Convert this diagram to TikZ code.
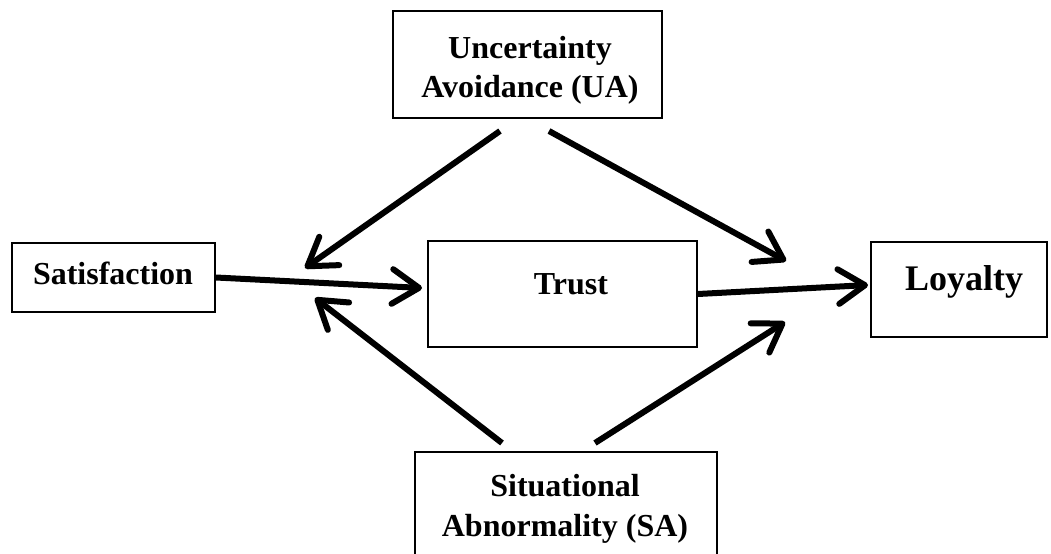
\documentclass[tikz,border=0pt]{standalone}
\usepackage{fontspec}
\setmainfont{Liberation Serif}
\usetikzlibrary{positioning,arrows.meta}

\begin{document}
\begin{tikzpicture}[x=0.75pt,y=-0.75pt,>={Straight Barb[length=20pt,width=26pt,round]},
  box/.style={draw,line width=1.5pt,inner sep=0pt},
  lbl/.style={font=\bfseries\fontsize{24}{29.5}\selectfont,align=center,inner sep=0pt},
  arr/.style={->,line width=4.5pt}]
  \useasboundingbox (0,0) rectangle (1051,554);

  % boxes
  \node[box,minimum width=201.75pt,minimum height=80.25pt] (ua) at (527.5,64.5) {};
  \node[box,minimum width=152.25pt,minimum height=51.75pt] (sat) at (113.5,277.5) {};
  \node[box,minimum width=201.75pt,minimum height=79.5pt] (trust) at (562.5,294) {};
  \node[box,minimum width=132pt,minimum height=71.25pt] (loy) at (959,289.5) {};
  \node[box,minimum width=226.5pt,minimum height=79.5pt] (sa) at (566,505) {};

  % labels
  \node[lbl] (uatxt) at (530,70) {Uncertainty\\Avoidance (UA)};
  \node[lbl,anchor=base] (sattxt) at (113,284) {Satisfaction};
  \node[lbl,anchor=base] (trusttxt) at (571,294) {Trust};
  \node[lbl,anchor=base,font=\bfseries\fontsize{27}{32}\selectfont] (loytxt) at (964,290) {Loyalty};
  \node[lbl] (satxt) at (565,509) {Situational\\Abnormality (SA)};

  % free arrow ends
  \coordinate (ual) at (500,131);
  \coordinate (uar) at (549,131);
  \coordinate (sal) at (502,443);
  \coordinate (sar) at (595,443);
  \coordinate (midl) at (305,268);
  \coordinate (midr) at (786,261);
  \coordinate (lowl) at (315,298);
  \coordinate (lowr) at (785,322);
  \coordinate (trin) at (422,288);
  \coordinate (loyin) at (868,285);

  \draw[arr] (sat.east) -- (trin);
  \draw[arr] (trust.east) -- (loyin);
  \draw[arr] (ual) -- (midl);
  \draw[arr] (uar) -- (midr);
  \draw[arr] (sal) -- (lowl);
  \draw[arr] (sar) -- (lowr);
\end{tikzpicture}
\end{document}
